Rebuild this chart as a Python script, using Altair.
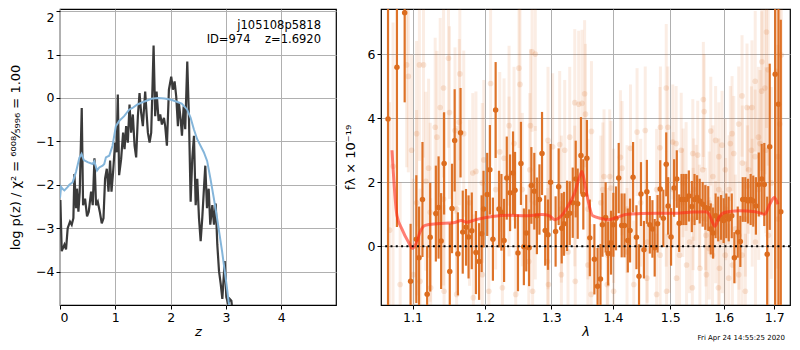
import altair as alt
import pandas as pd

# ---------------- left panel: p(z) ----------------
z_black = [0.007, 0.031, 0.08, 0.109, 0.139, 0.181, 0.212, 0.242, 0.26, 0.29, 0.308, 0.333, 0.357,
           0.393, 0.417, 0.453, 0.489, 0.52, 0.562, 0.592, 0.623, 0.652, 0.683, 0.719, 0.755, 0.786,
           0.815, 0.846, 0.877, 0.906, 0.931, 0.96, 0.996, 1.022, 1.045, 1.069, 1.105, 1.141, 1.167,
           1.196, 1.226, 1.257, 1.286, 1.317, 1.348, 1.377, 1.408, 1.438, 1.467, 1.498, 1.54, 1.565,
           1.589, 1.62, 1.649, 1.674, 1.692, 1.721, 1.746, 1.783, 1.812, 1.842, 1.879, 1.902, 1.933,
           1.969, 2.011, 2.042, 2.072, 2.101, 2.132, 2.15, 2.181, 2.205, 2.236, 2.264, 2.301, 2.332,
           2.362, 2.391, 2.422, 2.453, 2.482, 2.513, 2.543, 2.572, 2.609, 2.627, 2.658, 2.688, 2.717,
           2.754, 2.784, 2.815, 2.844, 2.875, 2.906, 2.935, 2.978, 3.007, 3.043, 3.069, 3.098, 3.11]
logp_black = [-2.35, -3.53, -3.38, -3.49, -3.0, -2.85, -2.92, -2.77, -1.75, -2.54, -2.09, -2.62, -2.16,
              -0.23, -2.47, -2.32, -2.73, -2.62, -2.16, -2.47, -1.39, -2.47, -2.39, -2.62, -2.89, -2.77,
              -1.86, -1.63, -2.16, -1.44, -2.16, -1.71, -1.03, -1.25, 0.08, -1.78, -1.41, -0.8, -1.18,
              -0.65, -1.03, -0.15, -0.8, -0.38, -1.1, -1.37, -0.42, 0.11, -0.34, -0.65, 0.15, -0.34,
              -0.8, -1.03, -0.8, 0.34, 1.21, -0.42, 0.15, -0.53, -0.38, -0.61, -0.46, -0.65, -1.1,
              0.19, 0.49, 0.19, 0.38, 0.04, -0.65, -0.11, -0.49, -0.87, -0.19, -0.72, 0.84, -0.49,
              -2.39, -1.41, -0.87, -2.47, -1.86, -2.77, -3.3, -2.77, -1.94, -1.56, -2.54, -2.09, -2.92,
              -2.47, -2.92, -2.43, -3.38, -3.99, -4.29, -4.63, -3.76, -4.59, -4.75, -4.63, -4.67, -4.8]

z_blue = [0.0, 0.02, 0.05, 0.079, 0.14, 0.17, 0.23, 0.29, 0.35, 0.39, 0.43, 0.5, 0.59, 0.62, 0.67,
          0.71, 0.77, 0.8, 0.83, 0.89, 0.95, 1.01, 1.07, 1.16, 1.25, 1.31, 1.4, 1.53, 1.65, 1.77,
          1.89, 2.01, 2.1, 2.2, 2.3, 2.36, 2.42, 2.48, 2.6, 2.66, 2.72, 2.78, 2.84, 2.93, 3.01,
          3.05, 3.07]
logp_blue = [-2.3, -2.05, -2.1, -2.13, -2.05, -2.0, -1.94, -1.7, -1.38, -1.29, -1.43, -1.48, -1.52,
             -1.46, -1.67, -1.6, -1.56, -1.52, -1.37, -1.33, -1.1, -0.65, -0.53, -0.42, -0.27, -0.23,
             -0.15, -0.08, -0.02, 0.0, -0.01, -0.04, -0.08, -0.13, -0.27, -0.45, -0.72, -0.95, -1.25,
             -1.45, -1.86, -2.3, -2.77, -3.53, -4.29, -4.7, -4.85]

z_ticks = [0, 1, 2, 3, 4]
logp_ticks = [-4, -3, -2, -1, 0, 1, 2]
label_lines = ["j105108p5818", "ID=974\u00a0\u00a0\u00a0\u00a0z=1.6920"]

# ---------------- right panel: spectrum ----------------
lam_bold = [1.068, 1.0795, 1.0896, 1.0974, 1.105, 1.1086, 1.1132, 1.1195, 1.1236, 1.1313, 1.135,
            1.1385, 1.1426, 1.1504, 1.1535, 1.1572, 1.1617, 1.1654, 1.1685, 1.1731, 1.1767, 1.1813,
            1.1872, 1.1917, 1.1954, 1.1981, 1.2034, 1.2073, 1.2117, 1.2157, 1.2206, 1.2242, 1.2281,
            1.2321, 1.237, 1.2414, 1.2444, 1.2488, 1.2533, 1.2577, 1.2613, 1.2657, 1.2691, 1.2736,
            1.2776, 1.2815, 1.2855, 1.2904, 1.2948, 1.2988, 1.3067, 1.3115, 1.3163, 1.32, 1.3248,
            1.3291, 1.3339, 1.3387, 1.3419, 1.3472, 1.351, 1.3568, 1.3616, 1.3691, 1.3744, 1.3792,
            1.3824, 1.3878, 1.392, 1.3968, 1.4007, 1.4052, 1.4098, 1.4149, 1.4196, 1.4253, 1.4292,
            1.4344, 1.4402, 1.4447, 1.4481, 1.4533, 1.4584, 1.4636, 1.4682, 1.4722, 1.4773, 1.482,
            1.4876, 1.4928, 1.4962, 1.5015, 1.507, 1.5119, 1.5162, 1.5206, 1.5245, 1.529, 1.534,
            1.5395, 1.5445, 1.5493, 1.5542, 1.5597, 1.5647, 1.5702, 1.575, 1.5794, 1.5842, 1.5892,
            1.5947, 1.5996, 1.6047, 1.6094, 1.6153, 1.6204, 1.627, 1.6321, 1.6368, 1.6419, 1.6472,
            1.6525, 1.6576, 1.6629, 1.6687, 1.6746, 1.6798, 1.6857, 1.6908, 1.702, 1.7087, 1.7135]
flux_bold = [3.98, 5.6, 7.3, -1.1, 0.22, -0.36, 1.46, -1.5, 0.28, 1.02, 1.21,
             0.16, 2.59, -0.79, 1.18, 3.31, -0.24, 3.55, 0.44, 0.59, 0.29, 0.48,
             -0.2, -0.48, 0.39, 1.16, 1.62, 2.39, 0.22, 4.26, 1.16, 1.06, 0.18,
             2.13, 1.67, 2.29, 1.75, -0.21, 2.59, -0.02, 0.41, -0.05, 1.9, 1.72,
             0.95, 1.46, 2.9, 0.49, 0.36, 2.0, 0.46, 1.86, 0.56, 0.7, 0.95,
             1.03, 1.36, 2.1, 1.33, 2.84, 1.62, 2.75, 0.26, -0.41, -1.25, -1.03,
             0.67, 0.9, -0.23, 0.11, 0.67, 0.87, 2.13, 0.65, 0.65, 0.18, 0.49,
             2.16, 0.28, -0.94, 1.63, -0.11, 1.7, 0.67, 0.54, -0.05, 0.7, 1.79,
             0.87, 2.56, 1.26, 0.29, 1.82, 2.1, 0.72, 1.46, 1.46, 1.46, 1.57,
             1.24, 1.46, 1.52, 1.41, 1.31, 1.21, 1.18, 0.54, 0.41, 0.95, 0.85,
             0.9, 0.8, 0.95, 0.85, 0.95, -0.36, 0.44, 0.15, 1.46, 1.46, 1.41,
             1.46, 1.41, 1.26, 1.93, 2.1, 1.93, -0.25, 3.11, 5.38, 4.44, 1.08]
err_bold = [8, 5, 2.8, 1.8, 2.0, 1.6, 1.8, 1.5, 1.7, 1.5, 1.6,
            1.5, 1.6, 1.5, 1.4, 1.6, 1.3, 1.4, 1.3, 1.2, 1.3, 1.2,
            1.3, 1.2, 1.2, 1.2, 1.3, 1.4, 1.3, 1.5, 1.2, 1.2, 1.3,
            1.3, 1.2, 1.3, 1.2, 1.2, 1.3, 1.2, 1.2, 1.2, 1.2, 1.2,
            1.2, 1.1, 1.3, 1.1, 1.1, 1.2, 1.1, 1.2, 1.1, 1.0, 1.1,
            1.0, 1.1, 1.2, 1.1, 1.2, 1.1, 1.2, 1.2, 1.1, 1.2, 1.1,
            1.0, 1.1, 1.0, 1.0, 1.0, 1.0, 1.1, 1.0, 1.0, 1.0, 1.0,
            1.1, 1.0, 1.0, 1.0, 0.9, 1.0, 0.9, 0.9, 0.9, 0.9, 0.9,
            0.9, 1.0, 0.9, 0.9, 0.9, 0.9, 0.9, 0.8, 0.8, 0.8, 0.8,
            0.8, 0.8, 0.7, 0.7, 0.7, 0.7, 0.7, 0.8, 0.8, 0.7, 0.7,
            0.7, 0.7, 0.7, 0.7, 0.7, 0.8, 0.8, 0.8, 0.7, 0.7, 0.7,
            0.8, 0.8, 0.9, 1.0, 1.1, 1.3, 1.8, 2.6, 12, 12, 6]

lam_faint = [1.0922, 1.0944, 1.1091, 1.1146, 1.1486, 1.1418, 1.1644, 1.1372, 1.15, 1.1304, 1.1327,
             1.1054, 1.0987, 1.1214, 1.1177, 1.1576, 1.1636, 1.1699, 1.1827, 1.1872, 1.1985, 1.2083,
             1.2281, 1.2217, 1.2355, 1.2429, 1.2503, 1.2518, 1.2702, 1.2751, 1.2677, 1.2667, 1.2948,
             1.3021, 1.3131, 1.3211, 1.3291, 1.3371, 1.3435, 1.3488, 1.3531, 1.3643, 1.3545, 1.3851,
             1.383, 1.3947, 1.3968, 1.4127, 1.4155, 1.4299, 1.4413, 1.4556, 1.4814, 1.4824, 1.4928,
             1.4957, 1.5046, 1.5107, 1.5199, 1.529, 1.5413, 1.5505, 1.561, 1.5625, 1.575, 1.5842,
             1.5904, 1.5965, 1.6159, 1.6125, 1.6192, 1.6354, 1.6452, 1.655, 1.668, 1.6712, 1.6746,
             1.681, 1.6877, 1.683, 1.6615, 1.6485, 1.646, 1.5055, 1.5229, 1.542, 1.5536, 1.5658,
             1.5782, 1.5915, 1.6027, 1.6165, 1.6289, 1.6419, 1.5668, 1.5405, 1.5298, 1.5115, 1.4935,
             1.4756, 1.4584, 1.4356, 1.4012, 1.3904, 1.3638, 1.338, 1.3158, 1.2955, 1.271, 1.2454,
             1.2256, 1.2058, 1.1835, 1.16, 1.1425, 1.1242, 1.11, 1.0837, 1.1009, 1.1963, 1.2652,
             1.294, 1.3264, 1.3584, 1.3912, 1.424, 1.459, 1.4818, 1.5353, 1.572, 1.597, 1.6295,
             1.662, 1.688, 1.708, 1.6941, 1.7075, 1.7114, 1.7044, 1.7146, 1.6843, 1.675, 1.6615,
             1.6289, 1.6027, 1.5904, 1.572, 1.5474, 1.5235, 1.4928, 1.4756, 1.4476, 1.424, 1.4012,
             1.3798, 1.3584, 1.3371, 1.3158, 1.2948, 1.2751, 1.2553, 1.2355, 1.2157, 1.1963, 1.1781,
             1.16, 1.1418, 1.1236, 1.1054, 1.565, 1.5842, 1.6035, 1.6224, 1.6419, 1.6555, 1.6685,
             1.6354, 1.6094, 1.5895, 1.5545, 1.5169, 1.4986, 1.543, 1.5597, 1.579, 1.61, 1.636,
             1.654, 1.0745, 1.0700]
flux_faint = [5.67, 5.31, 5.67, 5.67, 5.88, 4.95, 5.39, 4.34, 4.18, 3.72, 3.41,
              3.52, 3.0, 2.44, 2.03, 3.62, 3.88, 3.52, 2.29, 2.34, 2.7, 5.09,
              2.75, 2.95, 3.77, 3.21, 5.57, 5.06, 6.08, 6.01, 3.77, 2.39, 3.31,
              3.11, 3.18, 3.0, 3.41, 4.49, 4.44, 4.47, 4.77, 3.59, 4.13, 2.18,
              1.77, 2.18, 1.82, 2.78, 2.44, 3.06, 3.57, 3.62, 3.08, 3.72, 4.95,
              3.72, 3.26, 3.21, 3.0, 2.18, 2.9, 2.85, 4.59, 4.21, 3.6, 3.31,
              2.8, 3.16, 3.52, 3.21, 2.9, 4.7, 4.34, 4.34, 3.41, 3.21, 4.85,
              4.95, 5.52, 3.0, 2.8, 2.39, 1.88, 1.77, 1.36, 0.85, 0.95, 0.34,
              -0.28, -0.69, -0.28, -0.59, -0.89, -1.41, -0.89, -1.3, -0.59, -1.0, -1.41,
              -1.51, -1.0, -1.2, -1.41, -1.2, -1.51, -1.1, -0.89, -1.2, -1.41, -1.51,
              -1.3, -1.41, -1.61, -1.51, -1.41, -1.3, -1.1, -1.2, -0.89, -0.89, -0.48,
              -0.48, -0.18, -0.59, -0.28, -0.18, 0.13, -0.28, 0.13, -0.07, 0.13, 0.34,
              0.13, 0.34, 0.85, 1.98, 2.8, 3.82, 5.47, 5.98, 6.7, 5.77, 5.16,
              3.82, 2.39, 1.77, 1.36, 1.57, 1.98, 1.16, 1.77, 1.36, 1.16, 0.95,
              1.36, 1.16, 1.57, 1.16, 0.95, 1.36, 1.77, 2.18, 1.77, 1.98, 1.36,
              1.16, 1.47, 1.06, 1.36, 0.85, 0.44, 1.16, 0.54, 0.85, 1.36, 1.77,
              -0.28, -1.0, -1.3, -0.69, -0.28, 0.34, 1.77, 2.39, 2.18, 1.77, 2.6,
              3.0, 2.5, 0.5]
err_faint = [3.2, 3.0, 3.0, 2.9, 2.8, 2.8, 2.7, 2.8, 2.7, 2.8, 2.7,
             2.9, 3.0, 2.8, 2.8, 2.6, 2.6, 2.6, 2.5, 2.5, 2.5, 2.6,
             2.5, 2.5, 2.5, 2.4, 2.5, 2.5, 2.5, 2.4, 2.4, 2.4, 2.3,
             2.3, 2.3, 2.2, 2.2, 2.3, 2.3, 2.3, 2.3, 2.2, 2.2, 2.1,
             2.1, 2.1, 2.1, 2.1, 2.1, 2.0, 2.0, 2.0, 1.9, 1.9, 2.0,
             1.9, 1.8, 1.8, 1.8, 1.7, 1.7, 1.7, 1.8, 1.8, 1.7, 1.7,
             1.7, 1.7, 1.8, 1.8, 1.8, 1.9, 2.0, 2.1, 2.2, 2.3, 2.5,
             2.7, 3.0, 2.6, 2.1, 2.0, 1.9, 1.8, 1.7, 1.6, 1.6, 1.6,
             1.6, 1.6, 1.6, 1.7, 1.7, 1.8, 1.6, 1.6, 1.7, 1.7, 1.8,
             1.9, 1.9, 2.0, 2.1, 2.1, 2.2, 2.2, 2.3, 2.3, 2.4, 2.4,
             2.5, 2.5, 2.6, 2.6, 2.7, 2.8, 2.9, 3.2, 3.0, 2.5, 2.4,
             2.3, 2.2, 2.2, 2.1, 2.0, 1.9, 1.9, 1.6, 1.6, 1.6, 1.7,
             2.0, 2.8, 3.5, 3.0, 3.5, 3.8, 3.5, 4.0, 3.0, 2.6, 2.2,
             1.8, 1.6, 1.6, 1.6, 1.6, 1.7, 1.8, 1.9, 2.0, 2.0, 2.1,
             2.1, 2.2, 2.2, 2.3, 2.3, 2.4, 2.4, 2.5, 2.5, 2.5, 2.6,
             2.6, 2.7, 2.8, 2.9, 1.6, 1.6, 1.6, 1.7, 1.8, 2.0, 2.2,
             1.8, 1.7, 1.6, 1.6, 1.7, 1.8, 1.6, 1.6, 1.6, 1.7, 1.8,
             2.0, 4.5, 4.0]

lam_model = [1.0731, 1.0795, 1.0859, 1.0945, 1.1, 1.1054, 1.1099, 1.1168, 1.1327, 1.1554, 1.1667,
             1.1735, 1.1872, 1.2108, 1.2355, 1.2603, 1.285, 1.2973, 1.3051, 1.3158, 1.3264, 1.3371,
             1.3451, 1.3488, 1.3531, 1.3584, 1.3664, 1.3798, 1.3931, 1.4069, 1.424, 1.4476, 1.4756,
             1.5046, 1.5353, 1.5658, 1.572, 1.5782, 1.5831, 1.5904, 1.6027, 1.6289, 1.6615, 1.681,
             1.6908, 1.7006, 1.7074]
flux_model = [3.0, 0.96, 0.54, 0.13, -0.07, 0.13, 0.44, 0.65, 0.7, 0.73, 0.8,
              0.75, 0.83, 0.93, 0.97, 0.95, 0.99, 0.95, 0.83, 0.95, 1.26, 1.67,
              2.18, 2.34, 1.98, 1.46, 0.95, 0.87, 0.83, 0.9, 1.0, 1.02, 1.03,
              1.03, 1.06, 1.08, 1.0, 0.75, 0.62, 0.9, 1.06, 1.11, 1.08, 1.0,
              1.31, 1.52, 1.31]

lam_ticks = [1.1, 1.2, 1.3, 1.4, 1.5, 1.6, 1.7]
flux_ticks = [0, 2, 4, 6]
timestamp = "Fri Apr 24 14:55:25 2020"

# ---------------- build ----------------
FONT = "DejaVu Sans"
ORANGE = "#dc6c1e"
GRID = "#b0b0b0"
LW, LH = 276, 296
RW, RH = 409, 296

black_df = pd.DataFrame({"z": z_black, "logp": logp_black})
blue_df = pd.DataFrame({"z": z_blue, "logp": logp_blue})

zs = alt.Scale(domain=[0, 4.99], nice=False, zero=False)
ps = alt.Scale(domain=[-4.77, 2.05], nice=False, zero=False)
zx = alt.X("z:Q", scale=zs, axis=alt.Axis(values=z_ticks, title="z", titleFontStyle="italic"))
py = alt.Y("logp:Q", scale=ps,
           axis=alt.Axis(values=logp_ticks, labelFlush=5,
                         title="log p(z) / χ² = ⁶⁰⁰⁸⁄₅₉₉₆ = 1.00", titlePadding=13))

black = alt.Chart(black_df).mark_line(color="#3a3a3a", strokeWidth=2.2, clip=True).encode(x=zx, y=py)
blue = alt.Chart(blue_df).mark_line(color="#84b5da", strokeWidth=2, clip=True).encode(x=zx, y=py)
txt1 = alt.Chart(pd.DataFrame({"t": [label_lines[0]]})).mark_text(
    align="right", baseline="alphabetic", fontSize=11.5, font=FONT, color="black"
).encode(x=alt.value(LW - 15), y=alt.value(20), text="t:N")
txt2 = alt.Chart(pd.DataFrame({"t": [label_lines[1]]})).mark_text(
    align="right", baseline="alphabetic", fontSize=11.5, font=FONT, color="black"
).encode(x=alt.value(LW - 15), y=alt.value(34), text="t:N")
left = alt.layer(black, blue, txt1, txt2).properties(width=LW, height=LH)

faint_df = pd.DataFrame({"lam": lam_faint, "f": flux_faint, "e": err_faint})
faint_df["lo"] = faint_df["f"] - faint_df["e"]
faint_df["hi"] = faint_df["f"] + faint_df["e"]
bold_df = pd.DataFrame({"lam": lam_bold, "f": flux_bold, "e": err_bold})
bold_df["lo"] = bold_df["f"] - bold_df["e"]
bold_df["hi"] = bold_df["f"] + bold_df["e"]
model_df = pd.DataFrame({"lam": lam_model, "f": flux_model})

ls = alt.Scale(type="log", domain=[1.059, 1.7326], nice=False)
fs = alt.Scale(domain=[-1.84, 7.42], nice=False, zero=False)
lx = alt.X("lam:Q", scale=ls, axis=alt.Axis(values=lam_ticks, format=".1f", title="λ",
                                            titleFontStyle="italic"))
fy_axis = alt.Axis(values=flux_ticks, title="fλ × 10⁻¹⁹", titlePadding=10)

faint_bars = alt.Chart(faint_df).mark_rule(color=ORANGE, opacity=0.12, strokeWidth=3, clip=True).encode(
    x=lx, y=alt.Y("lo:Q", scale=fs, axis=fy_axis), y2="hi:Q")
faint_pts = alt.Chart(faint_df).mark_circle(color=ORANGE, opacity=0.16, size=32, clip=True).encode(
    x=lx, y=alt.Y("f:Q", scale=fs, axis=fy_axis))
bold_bars = alt.Chart(bold_df).mark_rule(color=ORANGE, opacity=0.95, strokeWidth=2.2, clip=True).encode(
    x=lx, y=alt.Y("lo:Q", scale=fs, axis=fy_axis), y2="hi:Q")
bold_pts = alt.Chart(bold_df).mark_circle(color=ORANGE, opacity=1, size=30, clip=True).encode(
    x=lx, y=alt.Y("f:Q", scale=fs, axis=fy_axis))
model = alt.Chart(model_df).mark_line(color="#ff2a18", opacity=0.6, strokeWidth=3, clip=True,
                                      interpolate="monotone").encode(
    x=lx, y=alt.Y("f:Q", scale=fs, axis=fy_axis))
zero = alt.Chart(pd.DataFrame({"y": [0]})).mark_rule(color="black", strokeWidth=2,
                                                       strokeDash=[2, 3.3]).encode(
    y=alt.Y("y:Q", scale=fs, axis=fy_axis))
stamp = alt.Chart(pd.DataFrame({"t": [timestamp]})).mark_text(
    align="right", baseline="alphabetic", fontSize=7, font=FONT, color="black"
).encode(x=alt.value(RW - 5), y=alt.value(RH + 35), text="t:N")
right = alt.layer(faint_bars, faint_pts, bold_bars, bold_pts, model, zero, stamp).properties(
    width=RW, height=RH)

chart = alt.hconcat(left, right, spacing=45, bounds="flush").properties(
    padding={"left": 0, "top": 0, "right": 0, "bottom": 0}
).configure(font=FONT).configure_view(stroke="black", strokeWidth=1.2).configure_axis(
    grid=True, gridColor=GRID, gridWidth=1, gridOpacity=1, domain=False,
    ticks=True, tickColor="black", tickSize=4, tickWidth=1,
    labelFont=FONT, labelFontSize=12.5, labelColor="black", labelPadding=2,
    titleFont=FONT, titleFontSize=13, titleFontWeight="normal", titleColor="black", titlePadding=2
)

chart.save("out.html", embed_options={"renderer": "svg", "actions": False})
